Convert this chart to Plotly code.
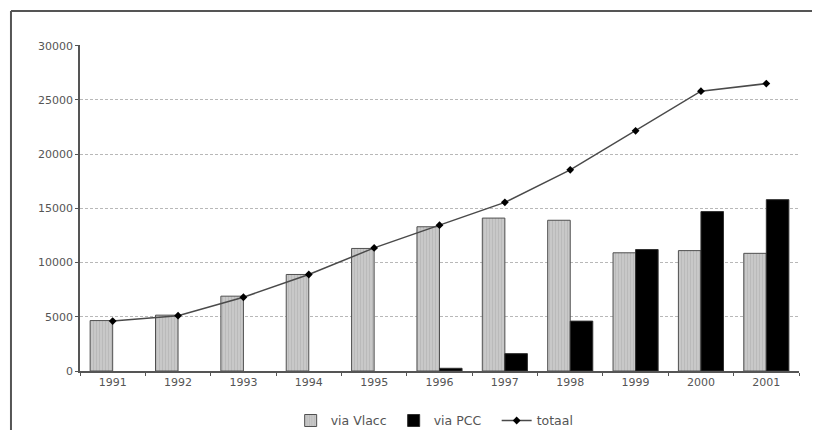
import plotly.graph_objects as go

years = ["1991", "1992", "1993", "1994", "1995", "1996", "1997", "1998", "1999", "2000", "2001"]
via_vlacc = [4650, 5150, 6900, 8900, 11300, 13300, 14100, 13900, 10900, 11100, 10850]
via_pcc = [None, None, None, None, None, 250, 1600, 4600, 11200, 14700, 15800]
totaal = [4600, 5100, 6800, 8900, 11350, 13450, 15550, 18550, 22150, 25800, 26500]
y_ticks = [0, 5000, 10000, 15000, 20000, 25000, 30000]
y_tick_labels = ["0", "5000", "10000", "15000", "20000", "25000", "30000"]

fig = go.Figure()
fig.add_trace(go.Bar(
    x=years, y=via_vlacc, name="via Vlacc",
    marker=dict(color="#c8c8c8", line=dict(color="#505050", width=1),
                pattern=dict(shape="|", fgcolor="#a8a8a8", size=3, solidity=0.3)),
))
fig.add_trace(go.Bar(
    x=years, y=via_pcc, name="via PCC",
    marker=dict(color="#000000", line=dict(color="#303030", width=1)),
))
fig.add_trace(go.Scatter(
    x=years, y=totaal, name="totaal", mode="lines+markers",
    line=dict(color="#4a4a4a", width=1.5),
    marker=dict(symbol="diamond", size=6, color="#000000"),
))

# outer frame (cropped)
fig.add_shape(type="line", xref="paper", yref="paper",
              x0=-0.096, y0=1.104, x1=1.2, y1=1.104,
              line=dict(color="#555555", width=2))
fig.add_shape(type="line", xref="paper", yref="paper",
              x0=-0.096, y0=1.104, x1=-0.096, y1=-0.3,
              line=dict(color="#555555", width=2))

fig.update_layout(
    width=804, height=422,
    margin=dict(l=72, r=13, t=37, b=59, autoexpand=False),
    paper_bgcolor="white", plot_bgcolor="white",
    barmode="group", bargap=0.31, bargroupgap=0,
    font=dict(family="DejaVu Sans, sans-serif", size=11, color="#555555"),
    showlegend=True,
    legend=dict(orientation="h", x=0.293, y=-0.153, xanchor="left", yanchor="middle",
                font=dict(size=12.5, color="#555555"), itemwidth=30,
                entrywidth=58, entrywidthmode="pixels",
                bgcolor="rgba(0,0,0,0)"),
    xaxis=dict(type="category", range=[-0.5, 10.5], showline=True, linecolor="#555555",
               linewidth=1.5, ticks="outside", ticklen=3, tickcolor="#555555",
               tickson="boundaries", showgrid=False, zeroline=False),
    yaxis=dict(range=[0, 30060], tickvals=y_ticks, ticktext=y_tick_labels,
               showline=True, linecolor="#555555",
               linewidth=1.5, ticks="outside", ticklen=3, tickcolor="#555555",
               showgrid=True, gridcolor="#b8b8b8", griddash="3px,2px", gridwidth=1,
               zeroline=False),
)

fig.write_html("out.html")
